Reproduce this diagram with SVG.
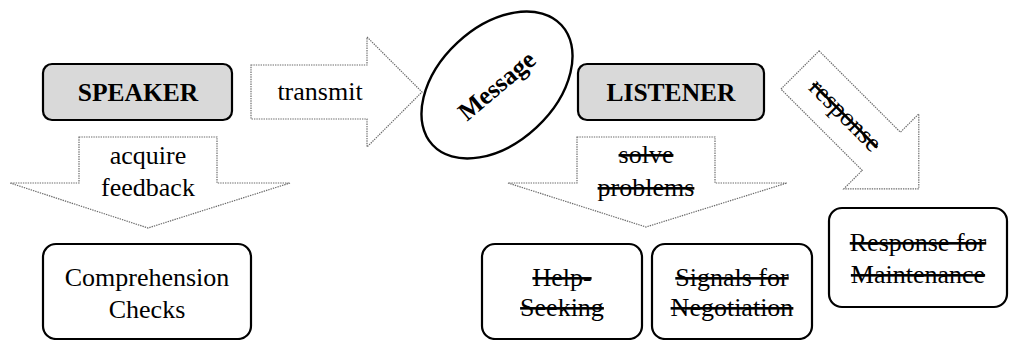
<svg xmlns="http://www.w3.org/2000/svg" width="1009" height="340" viewBox="0 0 1009 340">
  <defs>
    <style>
      .bg { fill: #ffffff; }
      .role { fill: #d9d9d9; stroke: #000; stroke-width: 2.2; }
      .box { fill: #ffffff; stroke: #000; stroke-width: 2.2; }
      .flow { fill: #ffffff; stroke: #6b6b6b; stroke-width: 1.2; stroke-dasharray: 1.4 1; }
      text { font-family: 'Liberation Serif', 'Tinos', 'DejaVu Serif', serif; font-size: 26px; fill: #000; text-anchor: middle; }
      .b { font-weight: bold; font-size: 25.5px; }
      .x { text-decoration: line-through; }
    </style>
  </defs>

  <rect class="bg" x="0" y="0" width="1009" height="340"/>

  <!-- flow arrows -->
  <g id="connectors">
    <g id="transmit">
      <polygon class="flow" points="251,65 367,65 367,37 422,92 367,147 367,119 251,119"/>
      <text x="320" y="100">transmit</text>
    </g>
    <g id="acquire-feedback">
      <polygon class="flow" points="79,137 217,137 217,183 290,183 148,228 10,183 79,183"/>
      <text x="148" y="164">acquire</text>
      <text x="148" y="196">feedback</text>
    </g>
    <g id="solve-problems">
      <polygon class="flow" points="577,137 715,137 715,183 787,183 646,227 508,183 577,183"/>
      <text class="x" x="646" y="163">solve</text>
      <text class="x" x="646" y="196">problems</text>
    </g>
    <g id="response" transform="translate(800,70) rotate(45)">
      <polygon class="flow" points="0,-27 115,-27 115,-53 168,0 115,53 115,27 0,27"/>
      <text class="x" x="64" y="8">response</text>
    </g>
  </g>

  <!-- speaker side -->
  <g id="speaker">
    <rect class="role" x="43" y="64" width="189" height="56" rx="9"/>
    <text class="b" x="138" y="101">SPEAKER</text>
  </g>

  <g id="message">
    <ellipse cx="497" cy="85" rx="88" ry="58" transform="rotate(-43 497 85)" fill="#fff" stroke="#000" stroke-width="2.4"/>
    <text class="b" x="497" y="94" transform="rotate(-40 497 86)">Message</text>
  </g>

  <!-- listener side -->
  <g id="listener">
    <rect class="role" x="578" y="64" width="186" height="56" rx="9"/>
    <text class="b" x="671" y="101">LISTENER</text>
  </g>

  <g id="comprehension-checks">
    <rect class="box" x="43" y="244" width="208" height="95" rx="13"/>
    <text x="147" y="286">Comprehension</text>
    <text x="147" y="318">Checks</text>
  </g>

  <g id="help-seeking">
    <rect class="box" x="482" y="244" width="160" height="95" rx="13"/>
    <text class="x" x="562" y="286">Help-</text>
    <text class="x" x="562" y="316">Seeking</text>
  </g>

  <g id="signals-for-negotiation">
    <rect class="box" x="652" y="244" width="160" height="95" rx="13"/>
    <text class="x" x="732" y="286">Signals for</text>
    <text class="x" x="732" y="316">Negotiation</text>
  </g>

  <g id="response-for-maintenance">
    <rect class="box" x="829" y="208" width="178" height="99" rx="13"/>
    <text class="x" x="918" y="251">Response for</text>
    <text class="x" x="918" y="283">Maintenance</text>
  </g>
</svg>
